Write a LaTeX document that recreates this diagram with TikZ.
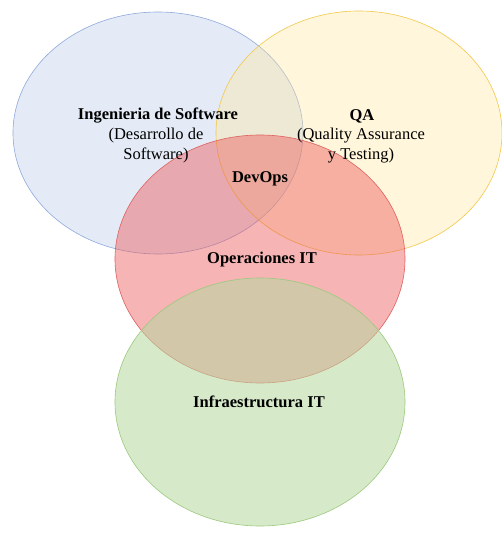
\documentclass[tikz,border=0pt]{standalone}
\usepackage{fontspec}
\setmainfont{Liberation Serif}
\definecolor{bluef}{HTML}{B4C7E7}
\definecolor{blued}{HTML}{8FAADC}
\definecolor{yellf}{HTML}{FFE699}
\definecolor{yelld}{HTML}{F2C94C}
\definecolor{redf}{HTML}{EC5A5A}
\definecolor{redd}{HTML}{E06060}
\definecolor{greenf}{HTML}{B5D9A0}
\definecolor{greend}{HTML}{9CC97E}
\begin{document}
\begin{tikzpicture}[x=1pt,y=-1pt,
  setc/.style={line width=0.6pt},
  lbl/.style={font=\fontsize{16.5}{19.5}\selectfont, align=center, text=black, inner sep=0pt},
  blbl/.style={lbl, font=\fontsize{16.5}{19.5}\selectfont\bfseries}]
\useasboundingbox (0,0) rectangle (501,537);
\fill[white] (0,0) rectangle (501,537);
\draw[setc, draw=blued, fill=bluef, fill opacity=0.35] (158,133) ellipse [x radius=145, y radius=121];
\draw[setc, draw=yelld, fill=yellf, fill opacity=0.35] (359,133) ellipse [x radius=143, y radius=122];
\draw[setc, draw=redd, fill=redf, fill opacity=0.45] (260,259) ellipse [x radius=145, y radius=124];
\draw[setc, draw=greend, fill=greenf, fill opacity=0.55] (260,402) ellipse [x radius=145, y radius=124];
\node[blbl] (sw) at (158,116) {Ingenieria de Software};
\node[lbl] (swd) at (156,145.5) {(Desarrollo de\\Software)};
\node[blbl] (qa) at (362,116) {QA};
\node[lbl] (qad) at (361,145.5) {(Quality Assurance\\y Testing)};
\node[blbl] (devops) at (260,179) {DevOps};
\node[blbl] (ops) at (262,260) {Operaciones IT};
\node[blbl] (infra) at (259,402) {Infraestructura IT};
\end{tikzpicture}
\end{document}
